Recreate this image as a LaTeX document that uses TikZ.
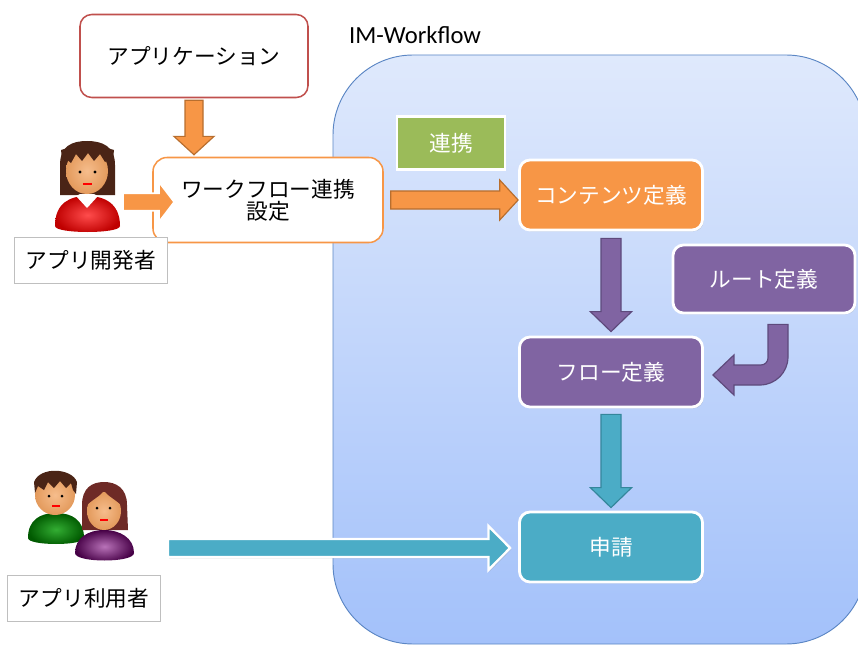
\documentclass[tikz,border=0pt]{standalone}
\usepackage{fontspec}
\setmainfont{Noto Sans CJK JP}
\newfontfamily\latinfont{Carlito}
\usetikzlibrary{
	positioning		% relative placement
	, calc			% partway and rotated points for the block arrows
	, shadows		% soft shadows under the boxes
}

\definecolor{appred}{HTML}{C0504D}
\definecolor{flworange}{HTML}{F79646}
\definecolor{flworangedk}{HTML}{B86E2E}
\definecolor{flwpurple}{HTML}{8064A2}
\definecolor{flwpurpledk}{HTML}{5E4A7C}
\definecolor{flwteal}{HTML}{4BACC6}
\definecolor{flwtealdk}{HTML}{34869B}
\definecolor{flwgreen}{HTML}{9BBB59}
\definecolor{wftop}{HTML}{DFE9FC}
\definecolor{wfbottom}{HTML}{A3C1FA}
\definecolor{wfline}{HTML}{5B86C4}
\definecolor{labelgray}{HTML}{BFBFBF}
\definecolor{skin}{HTML}{F6BD8C}
\definecolor{skindk}{HTML}{E39A5C}
\definecolor{hairbrown}{HTML}{4A2416}
\definecolor{hairred}{HTML}{6E2A26}

\begin{document}
\begin{tikzpicture}[
		x=0.03cm, y=-0.03cm
		, jp/.style={font=\fontsize{18.5}{22}\selectfont}
		, whitebox/.style={jp, draw, line width=1.3pt, fill=white, rounded corners=10pt,
			align=center, text=black}
		, colorbox/.style={jp, draw=white, line width=2.4pt, fill=#1, rounded corners=9pt,
			text=white, minimum width=5.49cm, minimum height=2.1cm,
			drop shadow={opacity=0.3, shadow xshift=1pt, shadow yshift=-1.2pt}}
		, rolelabel/.style={jp, draw=labelgray, line width=0.8pt, fill=white,
			minimum width=4.6cm, minimum height=1.38cm}
		% block arrows drawn as a polygon between two points
		, ba shaft/.store in=\bashaft, ba head/.store in=\bahead, ba tip/.store in=\batip
		, ba shaft=0.27cm, ba head=0.6cm, ba tip=0.55cm
		, blockarrow/.style={line width=1pt, line join=miter, to path={
			($(\tikztostart)!\bashaft!90:(\tikztotarget)$)
			-- ($($(\tikztotarget)!\batip!(\tikztostart)$)!\bashaft!-90:(\tikztostart)$)
			-- ($($(\tikztotarget)!\batip!(\tikztostart)$)!\bahead!-90:(\tikztostart)$)
			-- (\tikztotarget)
			-- ($($(\tikztotarget)!\batip!(\tikztostart)$)!\bahead!90:(\tikztostart)$)
			-- ($($(\tikztotarget)!\batip!(\tikztostart)$)!\bashaft!90:(\tikztostart)$)
			-- ($(\tikztostart)!\bashaft!-90:(\tikztotarget)$)
			-- cycle}}
		, orangeflow/.style={blockarrow, draw=flworangedk, fill=flworange}
		, purpleflow/.style={blockarrow, draw=flwpurpledk, fill=flwpurple, ba shaft=0.3cm, ba head=0.62cm, ba tip=0.6cm}
		, tealflow/.style={blockarrow, draw=flwtealdk, fill=flwteal, ba shaft=0.3cm, ba head=0.62cm, ba tip=0.6cm}
		, userflow/.style={blockarrow, line width=2pt, draw=white, fill=#1,
			drop shadow={opacity=0.3, shadow xshift=1pt, shadow yshift=-1.2pt}}
		, face/.style={inner color=skin, outer color=skindk}
	]
	\useasboundingbox (0,0) rectangle (858,646);

	% IM-Workflow area, running off the right edge
	\draw[wfline, line width=0.8pt, top color=wftop, bottom color=wfbottom, rounded corners=2.4cm]
		(333,55) rectangle (866,644);
	\node[font=\latinfont\fontsize{21}{25}\selectfont, anchor=west] (wftitle) at (345,35) {IM-Workflow};

	% boxes
	\node[whitebox, draw=appred, minimum width=6.84cm, minimum height=2.49cm] (app) at (194,56) {アプリケーション};
	\node[whitebox, draw=flworange, minimum width=6.9cm, minimum height=2.55cm, rounded corners=12pt] (setting) at (268,200)
		{ワークフロー連携\\[-3pt]設定};
	\node[colorbox=flwgreen, minimum width=3.24cm, minimum height=1.59cm, rounded corners=0pt] (link) at (451,143) {連携};
	\node[colorbox=flworange] (content) at (611,195) {コンテンツ定義};
	\node[colorbox=flwpurple, minimum width=5.46cm, minimum height=2.04cm] (route) at (764,279) {ルート定義};
	\node[colorbox=flwpurple] (flow) at (611,372) {フロー定義};
	\node[colorbox=flwteal] (apply) at (611,547) {申請};

	% roles
	\node[rolelabel] (devlabel) at (91,260) {アプリ開発者};
	\node[rolelabel] (userlabel) at (84,598) {アプリ利用者};

	% developer
	\fill[hairbrown] (60,195) -- (60,165) .. controls (60,146) and (72,141) .. (87,141)
		.. controls (102,141) and (115,146) .. (115,165) -- (115,195) -- cycle;
	\shade[inner color=red!70!white, outer color=red!75!black] (55,226) .. controls (55,203) and (70,196) .. (87,196)
		.. controls (104,196) and (120,203) .. (120,226) .. controls (120,234) and (55,234) .. cycle;
	\fill[white] (76,196) -- (87,208) -- (98,196) -- (94,194) -- (80,194) -- cycle;
	\shade[face] (87,171) ellipse [x radius=21, y radius=23];
	\fill[hairbrown] (63,168) -- (65,158) -- (71,163) -- (76,154) -- (82,161) -- (88,153) -- (94,161)
		-- (100,154) -- (105,162) -- (111,158) -- (112,168) -- (114,150) -- (87,142) -- (61,150) -- cycle;
	\fill (80,172) circle (1.6) (95,172) circle (1.6);
	\draw[red, line width=1.2pt] (83,184) -- (92,184);
	\coordinate (devhand) at (123,202);

	% users: man
	\shade[inner color=green!60!black!80!white, outer color=green!35!black] (28,538) .. controls (28,520) and (40,513) .. (56,513)
		.. controls (72,513) and (84,520) .. (84,538) .. controls (84,546) and (28,546) .. cycle;
	\shade[face] (55,495) ellipse [x radius=20, y radius=20];
	\fill[hairbrown] (35,493) -- (38,486) -- (44,490) -- (48,482) -- (54,488) -- (60,481) -- (66,488)
		-- (71,483) -- (73,490) -- (76,494) -- (77,482) .. controls (72,468) and (40,466) .. (34,482) -- cycle;
	\fill (49,496) circle (1.5) (62,496) circle (1.5);
	\draw[red, line width=1.1pt] (52,506) -- (60,506);
	% users: woman
	\fill[hairred] (82,530) -- (82,505) .. controls (82,488) and (92,482) .. (104,482)
		.. controls (116,482) and (127,488) .. (127,505) -- (128,530) -- cycle;
	\shade[inner color=violet!55!white, outer color=violet!55!black] (75,553) .. controls (75,538) and (88,530) .. (104,530)
		.. controls (120,530) and (134,538) .. (134,553) .. controls (134,563) and (75,563) .. cycle;
	\shade[face] (104,511) ellipse [x radius=17, y radius=19];
	\fill[hairred] (87,505) .. controls (92,500) and (100,496) .. (104,491) .. controls (108,496) and (116,500) .. (121,505)
		.. controls (121,490) and (113,484) .. (104,484) .. controls (95,484) and (87,490) .. cycle;
	\fill (97,508) circle (1.5) (110,508) circle (1.5);
	\draw[red, line width=1.1pt] (100,520) -- (108,520);
	\coordinate (userhand) at (168,548);

	% connectors
	\path[orangeflow] ($(app.south)+(0,2)$) to ($(app.south |- setting.north)+(0,-2)$);
	\path[orangeflow, draw=white, line width=1.5pt, ba shaft=0.26cm, ba tip=0.46cm] (devhand) to ($(devhand -| setting.west)+(22,0)$);
	\path[orangeflow] ($(setting.east)+(7,0)$) to (setting.east -| content.west);
	\path[purpleflow] ($(content.south)+(0,7)$) to ($(flow.north)+(0,-4)$);
	\path[tealflow] ($(flow.south)+(0,6)$) to ($(apply.north)+(0,-3)$);
	\path[userflow=flwteal, ba shaft=0.27cm, ba head=0.66cm, ba tip=0.65cm] (userhand) to ($(userhand -| apply.west)+(-8,0)$);

	% bent arrow from the route to the flow
	\coordinate (bendtop) at ($(route.south)+(4,10)$);
	\coordinate (bendtip) at ($(flow.east)+(9,3)$);
	\draw[flwpurpledk, fill=flwpurple, line width=1pt, line join=miter]
		(bendtop) [rounded corners=6pt] -- ($(bendtop |- bendtip)+(0,-10)$)
		[sharp corners] -- ($(bendtip)+(21,-10)$) -- ($(bendtip)+(21,-20)$) -- (bendtip)
		-- ($(bendtip)+(21,20)$) -- ($(bendtip)+(21,10)$)
		[rounded corners=24pt] -- ($(bendtip -| bendtop)+(20,10)$)
		[sharp corners] -- ($(bendtop)+(20,0)$) -- cycle;
\end{tikzpicture}
\end{document}
